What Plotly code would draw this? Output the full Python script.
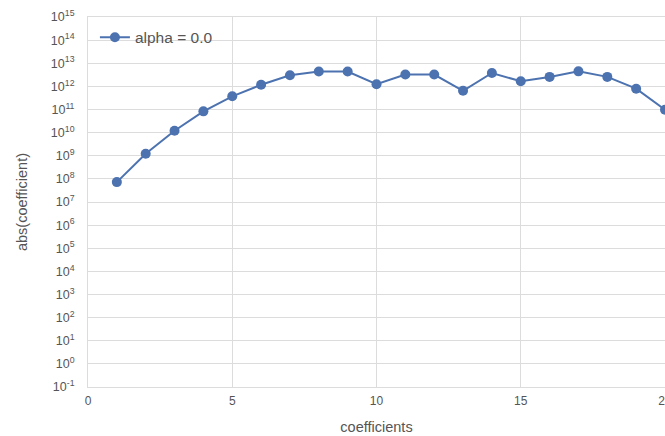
import plotly.graph_objects as go

coef_index = list(range(1, 21))
log_abs_coef = [7.86, 9.09, 10.08, 10.92, 11.57, 12.07, 12.48, 12.64, 12.64, 12.09,
                12.51, 12.51, 11.81, 12.58, 12.22, 12.41, 12.65, 12.41, 11.90, 10.99]
abs_coef = [10 ** v for v in log_abs_coef]
series_name = "alpha = 0.0"
y_exponents = list(range(-1, 16))
y_tick_vals = [10.0 ** e for e in y_exponents]
y_tick_text = ["10<sup>%d</sup>" % e for e in y_exponents]

grid = "#dcdcdc"
txt = "#555555"

fig = go.Figure()
fig.add_trace(go.Scatter(
    x=coef_index, y=abs_coef, mode="lines+markers", name=series_name,
    line=dict(color="#4C72B0", width=2),
    marker=dict(color="#4C72B0", size=10),
    cliponaxis=False,
))
fig.update_layout(
    width=665, height=436,
    margin=dict(l=88, r=0, t=17, b=49, autoexpand=False),
    paper_bgcolor="white", plot_bgcolor="white",
    font=dict(family="Liberation Sans, Arial, sans-serif", size=12, color=txt),
    showlegend=True,
    legend=dict(x=0.012, y=0.99, xanchor="left", yanchor="top",
                bgcolor="rgba(0,0,0,0)", font=dict(size=15.5, color=txt)),
    xaxis=dict(range=[0, 20], tick0=0, dtick=5, showgrid=True, gridcolor=grid,
               gridwidth=1, zeroline=False, showline=True, linecolor=grid,
               mirror=True, ticks="outside", ticklen=3, tickcolor="rgba(0,0,0,0)",
               automargin=False, ticklabeloverflow="allow",
               title=dict(text="coefficients", standoff=14, font=dict(size=14.5, color=txt)),
               tickfont=dict(size=12, color=txt)),
    yaxis=dict(type="log", range=[-1, 15], tickmode="array", tickvals=y_tick_vals,
               ticktext=y_tick_text,
               showgrid=True, gridcolor=grid, gridwidth=1, zeroline=False,
               showline=True, linecolor=grid, mirror=True,
               ticks="outside", ticklen=10, tickcolor="rgba(0,0,0,0)",
               automargin=False,
               title=dict(text="abs(coefficient)", standoff=19, font=dict(size=14.5, color=txt)),
               tickfont=dict(size=12.5, color=txt)),
)
fig.write_html(
    "out.html",
    config={"displayModeBar": False},
    post_script="document.body.style.margin='0';document.body.style.overflow='hidden';",
)
